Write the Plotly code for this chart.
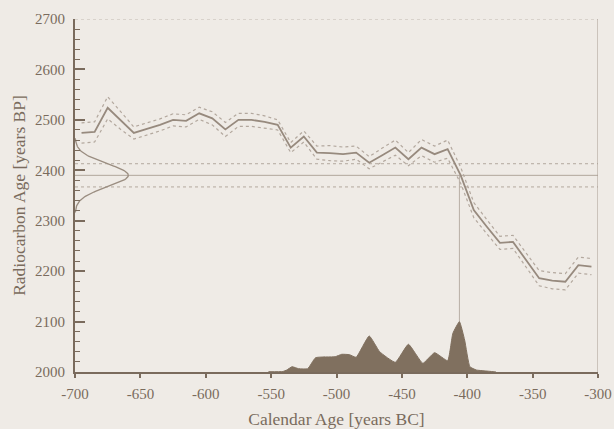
import numpy as np
import plotly.graph_objects as go

# Calibration curve (IntCal-style), radiocarbon age with 1-sigma error
cal_years = [-695, -685, -675, -665, -655, -645, -635, -625, -615, -605,
             -595, -585, -575, -565, -555, -545, -535, -525, -515, -505,
             -495, -485, -475, -465, -455, -445, -435, -425, -415, -405,
             -395, -385, -375, -365, -355, -345, -335, -325, -315, -305]
c14_age = [2474, 2476, 2524, 2498, 2474, 2482, 2490, 2500, 2498, 2513,
           2503, 2481, 2500, 2500, 2496, 2490, 2445, 2467, 2435, 2434,
           2432, 2435, 2415, 2430, 2445, 2422, 2445, 2432, 2442, 2390,
           2321, 2288, 2256, 2258, 2222, 2186, 2181, 2179, 2212, 2209]
c14_err = [20, 20, 22, 17, 12, 12, 12, 12, 12, 12,
           13, 14, 13, 13, 12, 10, 10, 11, 13, 15,
           14, 13, 12, 14, 15, 13, 16, 16, 18, 16,
           15, 14, 13, 13, 14, 15, 16, 16, 16, 16]

# Measured sample: 2390 +/- 23 BP
meas_age = 2390
meas_err = 23
cal_median = -406

# Calibrated probability (relative to its maximum)
dist_years = [-552, -541, -538, -534, -529, -522, -516, -501, -496, -490,
              -485, -475, -467, -455, -445, -434, -425, -415, -411, -406,
              -402, -398, -393, -383, -378]
dist_prob = [0.006, 0.01, 0.04, 0.105, 0.066, 0.066, 0.284, 0.304, 0.352, 0.344,
             0.292, 0.716, 0.404, 0.193, 0.551, 0.173, 0.384, 0.225, 0.769, 1.0,
             0.636, 0.105, 0.04, 0.014, 0.0]

x_ticks = [-700, -650, -600, -550, -500, -450, -400, -350, -300]
x_labels = ["-700", "-650", "-600", "-550", "-500", "-450", "-400", "-350", "-300"]
y_ticks = [2000, 2100, 2200, 2300, 2400, 2500, 2600, 2700]
y_labels = ["2000", "2100", "2200", "2300", "2400", "2500", "2600", "2700"]

BG = "#efebe6"
INK = "#7a6b5d"
CURVE = "#978a7e"
BAND = "#b3a89e"
FILL = "#80705f"
FONT = "Liberation Serif"

fig = go.Figure()

upper = [a + e for a, e in zip(c14_age, c14_err)]
lower = [a - e for a, e in zip(c14_age, c14_err)]

# measurement lines
for yv, dash, col in [(meas_age + meas_err, "dot", BAND),
                      (meas_age, "solid", "#b0a69c"),
                      (meas_age - meas_err, "dot", BAND)]:
    fig.add_trace(go.Scatter(x=[x_ticks[0], x_ticks[-1]], y=[yv, yv], mode="lines",
                             line=dict(color=col, width=1, dash=dash),
                             hoverinfo="skip", showlegend=False))

# line from the intercept down to the calendar axis
fig.add_trace(go.Scatter(x=[cal_median, cal_median], y=[y_ticks[0], meas_age],
                         mode="lines", line=dict(color="#b8aea5", width=1),
                         hoverinfo="skip", showlegend=False))

# calibrated distribution along the calendar axis
fig.add_trace(go.Scatter(x=dist_years, y=dist_prob, yaxis="y2", mode="lines",
                         fill="tozeroy", fillcolor=FILL,
                         line=dict(color=FILL, width=1, shape="spline", smoothing=0.4),
                         hoverinfo="skip", showlegend=False))

# calibration curve and its error envelope
fig.add_trace(go.Scatter(x=cal_years, y=upper, mode="lines",
                         line=dict(color=BAND, width=1.2, dash="dot"),
                         hoverinfo="skip", showlegend=False))
fig.add_trace(go.Scatter(x=cal_years, y=lower, mode="lines",
                         line=dict(color=BAND, width=1.2, dash="dot"),
                         hoverinfo="skip", showlegend=False))
fig.add_trace(go.Scatter(x=cal_years, y=c14_age, mode="lines",
                         line=dict(color=CURVE, width=1.8),
                         hoverinfo="skip", showlegend=False))

# normal distribution of the measurement along the radiocarbon axis
g_age = np.linspace(meas_age - 3.2 * meas_err, meas_age + 3.2 * meas_err, 121)
g_val = np.exp(-0.5 * ((g_age - meas_age) / meas_err) ** 2)
fig.add_trace(go.Scatter(x=g_val, y=g_age, xaxis="x2", mode="lines",
                         line=dict(color="#9a8d80", width=1.3),
                         hoverinfo="skip", showlegend=False))

# plot frame: dotted top edge, plain right edge
fig.add_shape(type="line", xref="x", yref="y", x0=x_ticks[0], x1=x_ticks[-1],
              y0=y_ticks[-1], y1=y_ticks[-1], line=dict(color="#c2b9b0", width=1, dash="dot"))
fig.add_shape(type="line", xref="x", yref="y", x0=x_ticks[-1], x1=x_ticks[-1],
              y0=y_ticks[0], y1=y_ticks[-1], line=dict(color="#a69b91", width=1))

tick_font = dict(family=FONT, size=15, color=INK)
title_font = dict(family=FONT, size=17.5, color=INK)
fig.update_layout(
    width=614, height=429,
    margin=dict(l=75, r=16, t=19, b=57),
    paper_bgcolor=BG, plot_bgcolor=BG,
    font=dict(family=FONT, color=INK),
    xaxis=dict(range=[x_ticks[0], x_ticks[-1]], tickvals=x_ticks, ticktext=x_labels,
               ticks="outside", ticklen=4, tickwidth=1.5, tickcolor=INK,
               ticklabelstandoff=3, automargin=False,
               showline=True, linecolor=INK, linewidth=1.5,
               showgrid=False, zeroline=False, tickfont=tick_font,
               title=dict(text="Calendar Age [years BC]", font=title_font, standoff=12)),
    yaxis=dict(range=[y_ticks[0], y_ticks[-1]], tickvals=y_ticks, ticktext=y_labels,
               ticks="inside", ticklen=10, tickwidth=1.5, tickcolor=INK,
               minor=dict(dtick=20, ticks="inside", ticklen=5, tickwidth=1, tickcolor=INK),
               ticklabelstandoff=5, automargin=False,
               showline=True, linecolor=INK, linewidth=2,
               showgrid=False, zeroline=False, tickfont=tick_font,
               title=dict(text="Radiocarbon Age [years BP]", font=title_font, standoff=5)),
    xaxis2=dict(overlaying="x", range=[0, 9.81], visible=False),
    yaxis2=dict(overlaying="y", range=[0, 7.02], visible=False),
)

fig.write_html("out.html")
